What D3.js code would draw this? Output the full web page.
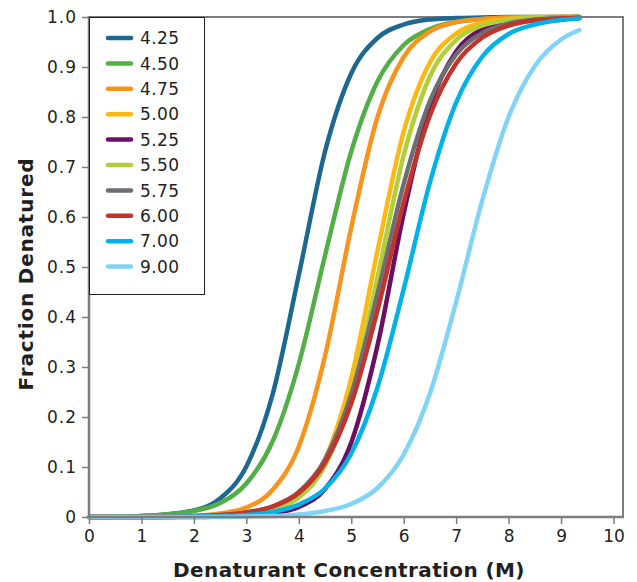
<!DOCTYPE html>
<html>
<head>
<meta charset="utf-8">
<script src="https://cdn.jsdelivr.net/npm/d3@7"></script>
<style>
  body { margin: 0; background: #fff; }
  svg text { font-family: "DejaVu Sans", sans-serif; fill: #231f20; }
</style>
</head>
<body>
<svg id="chart"></svg>
<script>
// denaturant concentration (M) where each curve was read
let conc = [0, 1, 2, 2.5, 3, 3.5, 4, 4.5, 5, 5.5, 6, 6.5, 7, 7.5, 8, 8.5, 9, 9.35];

// fraction denatured
let s425 = [0.000,0.002,0.013,0.037,0.101,0.245,0.484,0.731,0.887,0.958,0.985,0.995,0.998,0.999,1.000,1.000,1.000,1.000];
let s450 = [0.000,0.002,0.012,0.028,0.067,0.151,0.306,0.523,0.731,0.871,0.944,0.976,0.990,0.996,0.998,0.999,1.000,1.000];
let s475 = [0.000,0.000,0.002,0.007,0.019,0.054,0.141,0.322,0.579,0.800,0.920,0.971,0.990,0.996,0.999,1.000,1.000,1.000];
let s500 = [0.000,0.000,0.001,0.002,0.005,0.015,0.042,0.115,0.278,0.532,0.771,0.909,0.967,0.989,0.996,0.999,1.000,1.000];
let s525 = [0.000,0.000,0.000,0.001,0.002,0.007,0.020,0.056,0.149,0.343,0.607,0.821,0.931,0.976,0.992,0.997,0.999,1.000];
let s550 = [0.000,0.000,0.001,0.002,0.005,0.014,0.039,0.103,0.245,0.479,0.723,0.881,0.954,0.983,0.994,0.998,0.999,1.000];
let s575 = [0.000,0.000,0.001,0.003,0.009,0.021,0.050,0.115,0.245,0.446,0.666,0.832,0.925,0.968,0.987,0.995,0.998,0.999];
let s600 = [0.000,0.000,0.002,0.004,0.009,0.021,0.048,0.109,0.227,0.413,0.629,0.803,0.907,0.959,0.983,0.993,0.997,0.998];
let s700 = [0.000,0.000,0.001,0.002,0.004,0.010,0.025,0.057,0.127,0.259,0.456,0.669,0.829,0.921,0.966,0.985,0.994,0.997];
let s900 = [0.000,0.000,0.000,0.000,0.001,0.002,0.005,0.012,0.026,0.058,0.125,0.247,0.430,0.634,0.800,0.902,0.955,0.974];

let labels = ["4.25","4.50","4.75","5.00","5.25","5.50","5.75","6.00","7.00","9.00"];
let values = [s425, s450, s475, s500, s525, s550, s575, s600, s700, s900];
let colors = ["#1c6891","#52ae47","#f7941d","#fdb913","#6a0f63","#b2cf37","#6d6e71","#c1342c","#00b2e8","#82d4f6"];

let xTicks = [0,1,2,3,4,5,6,7,8,9,10];
let yTicks = [0,0.1,0.2,0.3,0.4,0.5,0.6,0.7,0.8,0.9,1.0];

var width = 637, height = 582;
var margin = {top: 17, left: 89, right: 14, bottom: 65};

let svg = d3.select('#chart')
    .attr('width', width)
    .attr('height', height);

var x = d3.scaleLinear().domain([0, 10]).range([margin.left, 613.5]);
var y = d3.scaleLinear().domain([0, 1]).range([height - margin.bottom, margin.top]);
var frameRight = width - margin.right;

// frame on top and right
svg.append('path')
    .attr('d', `M${margin.left},${y(1)}H${frameRight}V${y(0)}`)
    .attr('fill', 'none')
    .attr('stroke', '#7d7d7d')
    .attr('stroke-width', 2);

let series = labels.map((l, i) => ({
    label: l,
    color: colors[i],
    points: conc.map((c, j) => ({c: c, f: values[i][j]}))
}));

var line = d3.line()
    .x(d => x(d.c))
    .y(d => y(d.f))
    .curve(d3.curveMonotoneX);

svg.append('g')
    .selectAll('path')
    .data(series)
    .enter()
    .append('path')
    .attr('d', d => line(d.points))
    .attr('fill', 'none')
    .attr('stroke', d => d.color)
    .attr('stroke-width', 4.5)
    .attr('stroke-linecap', 'round');

// axes
let xAxis = svg.append('g')
    .attr('transform', `translate(0,${y(0)})`)
    .call(d3.axisBottom(x).tickValues(xTicks).tickSize(7).tickPadding(6).tickFormat(d3.format('d')));
xAxis.select('.domain').remove();

let yAxis = svg.append('g')
    .attr('transform', `translate(${margin.left},0)`)
    .call(d3.axisLeft(y).tickValues(yTicks).tickSize(7).tickPadding(5)
        .tickFormat(d => d === 0 ? '0' : d.toFixed(1)));
yAxis.select('.domain').remove();

svg.selectAll('.tick line').attr('stroke', '#7d7d7d').attr('stroke-width', 1.5);
svg.selectAll('.tick text').style('font-size', '17px').attr('fill', '#231f20');
yAxis.selectAll('.tick text').style('letter-spacing', '1px');

// axis lines, a bit heavier than the frame
svg.append('line')
    .attr('x1', margin.left).attr('x2', frameRight + 1)
    .attr('y1', y(0)).attr('y2', y(0))
    .attr('stroke', '#7d7d7d').attr('stroke-width', 2.5);
svg.append('line')
    .attr('x1', margin.left).attr('x2', margin.left)
    .attr('y1', y(1) - 1).attr('y2', y(0))
    .attr('stroke', '#7d7d7d').attr('stroke-width', 2.5);

// legend
let legend = svg.append('g');
legend.append('rect')
    .attr('x', margin.left + 0.5).attr('y', margin.top + 0.5)
    .attr('width', 115).attr('height', 277)
    .attr('fill', '#fff')
    .attr('stroke', '#231f20')
    .attr('stroke-width', 1);

let rows = legend.selectAll('.row')
    .data(series)
    .enter()
    .append('g')
    .attr('class', 'row')
    .attr('transform', (d, i) => `translate(0,${38 + i * 25.4})`);

rows.append('line')
    .attr('x1', 108).attr('x2', 131)
    .attr('stroke', d => d.color)
    .attr('stroke-width', 4.5)
    .attr('stroke-linecap', 'round');

rows.append('text')
    .attr('x', 140)
    .attr('dy', '0.36em')
    .style('font-size', '17px')
    .style('letter-spacing', '0.4px')
    .text(d => d.label);

// axis titles
svg.append('text')
    .attr('x', (175 + 523) / 2)
    .attr('y', 577)
    .attr('text-anchor', 'middle')
    .style('font-size', '20px')
    .style('font-weight', 'bold')
    .style('letter-spacing', '0.4px')
    .text('Denaturant Concentration (M)');

svg.append('text')
    .attr('transform', 'translate(33,274) rotate(-90)')
    .attr('text-anchor', 'middle')
    .style('font-size', '20px')
    .style('font-weight', 'bold')
    .style('letter-spacing', '0.8px')
    .text('Fraction Denatured');
</script>
</body>
</html>
